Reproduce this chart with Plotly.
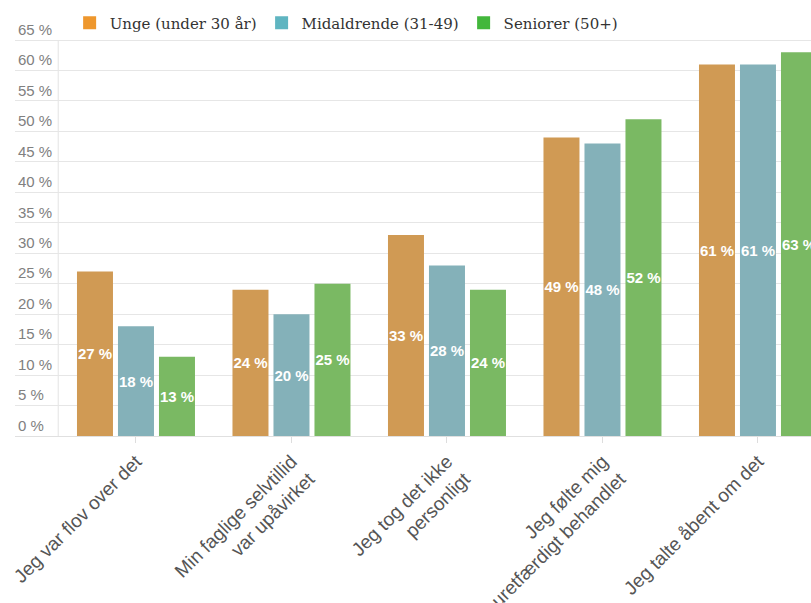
import plotly.graph_objects as go

# Survey answers, share of respondents per age group (in %)
categories = [
    "Jeg var flov over det",
    "Min faglige selvtillid<br>var upåvirket",
    "Jeg tog det ikke<br>personligt",
    "Jeg følte mig<br>uretfærdigt behandlet",
    "Jeg talte åbent om det",
]
series_names = ["Unge (under 30 år)", "Midaldrende (31-49)", "Seniorer (50+)"]
unge = [27, 24, 33, 49, 61]
midaldrende = [18, 20, 28, 48, 61]
seniorer = [13, 25, 24, 52, 63]

y_ticks = list(range(0, 70, 5))

bar_colors = ["#D09A54", "#84B1B9", "#7AB963"]
legend_colors = ["#EE972D", "#5FB5C1", "#43B73C"]

fig = go.Figure()

for name, values, color in zip(series_names, [unge, midaldrende, seniorer], bar_colors):
    fig.add_trace(go.Bar(
        x=categories,
        y=values,
        name=name,
        marker=dict(color=color, line=dict(width=0)),
        text=[f"{v} %" for v in values],
        texttemplate="%{text}",
        textposition="inside",
        insidetextanchor="middle",
        constraintext="none",
        textangle=0,
        insidetextfont=dict(family="Liberation Sans, Arial", size=15, color="white",
                            weight="bold"),
        showlegend=False,
        hoverinfo="skip",
    ))

# Legend entries in the brighter series colours
for name, color in zip(series_names, legend_colors):
    fig.add_trace(go.Scatter(
        x=[None], y=[None], mode="markers", name=name,
        marker=dict(symbol="square", size=13, color=color),
        showlegend=True,
    ))

# Vertical separator at the start of the first category band
fig.add_shape(type="line", xref="x", yref="y", x0=-0.5, x1=-0.5, y0=0, y1=65,
              line=dict(color="#e3e3e3", width=1), layer="below")

fig.update_layout(
    width=811,
    height=603,
    margin=dict(l=15, r=0, t=8, b=167, autoexpand=False),
    paper_bgcolor="white",
    plot_bgcolor="white",
    barmode="group",
    bargap=0.209,
    bargroupgap=0.122,
    legend=dict(
        orientation="h",
        x=0.416, xanchor="center",
        y=0.965, yanchor="middle",
        font=dict(family="DejaVu Serif", size=15, color="#333333"),
        itemwidth=30,
        tracegroupgap=0,
        bgcolor="rgba(0,0,0,0)",
    ),
    xaxis=dict(
        type="category",
        range=[-0.778, 4.341],
        automargin=False,
        tickangle=-45,
        tickfont=dict(family="Liberation Sans, Arial", size=19, color="#555555"),
        ticks="outside",
        ticklen=6,
        tickcolor="#dddddd",
        showline=True,
        linecolor="#e0e0e0",
        linewidth=1,
        showgrid=False,
    ),
    yaxis=dict(
        range=[0, 70.26],
        automargin=False,
        tickvals=y_ticks,
        ticktext=[f"{v} %" for v in y_ticks],
        ticklabelposition="inside top",
        tickfont=dict(family="Liberation Sans, Arial", size=15, color="#808080"),
        showgrid=True,
        gridcolor="#e6e6e6",
        gridwidth=1,
        zeroline=False,
        showline=False,
        ticks="",
    ),
)

fig.write_html("out.html")
